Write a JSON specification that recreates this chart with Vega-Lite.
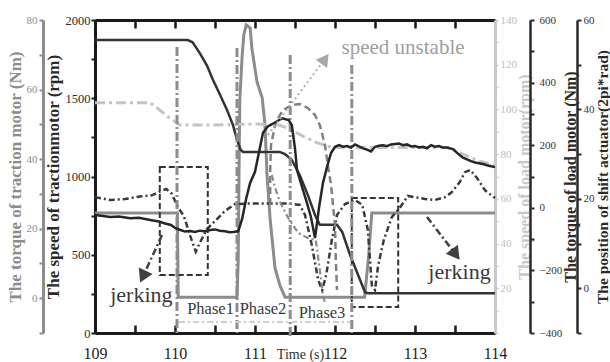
{
"$schema":"https://vega.github.io/schema/vega-lite/v6.json",
"width":400,"height":313,
"autosize":{"type":"none"},
"padding":{"left":95,"top":20,"right":115,"bottom":29},
"background":"white",
"config":{"view":{"stroke":null},"font":"Liberation Serif",
"axis":{"labelFont":"Liberation Serif","titleFont":"Liberation Serif","titleFontWeight":"bold","grid":false,"labelOverlap":false,"labelFlush":false,"format":"d"}},
"datasets":{
"tspeed":[{"t":109.00,"v":754},{"t":109.10,"v":748},{"t":109.19,"v":742},{"t":109.30,"v":744},{"t":109.44,"v":734},{"t":109.55,"v":736},{"t":109.69,"v":722},{"t":109.80,"v":712},{"t":109.875,"v":700},{"t":109.95,"v":690},{"t":110.00,"v":672},{"t":110.06,"v":660},{"t":110.125,"v":648},{"t":110.19,"v":652},{"t":110.25,"v":646},{"t":110.31,"v":654},{"t":110.375,"v":650},{"t":110.44,"v":658},{"t":110.50,"v":662},{"t":110.56,"v":654},{"t":110.625,"v":650},{"t":110.68,"v":644},{"t":110.73,"v":646},{"t":110.79,"v":650},{"t":110.84,"v":730},{"t":110.89,"v":860},{"t":110.94,"v":960},{"t":111.00,"v":1030},{"t":111.06,"v":1180},{"t":111.10,"v":1280},{"t":111.16,"v":1320},{"t":111.25,"v":1345},{"t":111.34,"v":1372},{"t":111.42,"v":1360},{"t":111.46,"v":1329},{"t":111.50,"v":1180},{"t":111.525,"v":1041},{"t":111.59,"v":930},{"t":111.65,"v":830},{"t":111.70,"v":740},{"t":111.75,"v":607},{"t":111.80,"v":800},{"t":111.85,"v":960},{"t":111.90,"v":1060},{"t":111.95,"v":1150},{"t":112.00,"v":1190},{"t":112.05,"v":1200},{"t":112.10,"v":1190},{"t":112.15,"v":1195},{"t":112.20,"v":1185},{"t":112.25,"v":1205},{"t":112.30,"v":1192},{"t":112.35,"v":1180},{"t":112.40,"v":1172},{"t":112.45,"v":1160},{"t":112.50,"v":1190},{"t":112.55,"v":1196},{"t":112.60,"v":1200},{"t":112.65,"v":1194},{"t":112.70,"v":1205},{"t":112.75,"v":1208},{"t":112.80,"v":1210},{"t":112.85,"v":1200},{"t":112.90,"v":1205},{"t":112.95,"v":1192},{"t":113.00,"v":1195},{"t":113.05,"v":1186},{"t":113.10,"v":1190},{"t":113.15,"v":1180},{"t":113.20,"v":1200},{"t":113.25,"v":1190},{"t":113.30,"v":1195},{"t":113.35,"v":1185},{"t":113.40,"v":1185},{"t":113.475,"v":1175},{"t":113.55,"v":1140},{"t":113.60,"v":1120},{"t":113.65,"v":1110},{"t":113.70,"v":1098},{"t":113.75,"v":1090},{"t":113.80,"v":1085},{"t":113.85,"v":1080},{"t":113.90,"v":1072},{"t":113.95,"v":1065},{"t":114.00,"v":1060}],
"arc":[{"t":111.19,"v":818},{"t":111.19,"v":1042},{"t":111.2,"v":1201},{"t":111.26,"v":1348},{"t":111.35,"v":1425},{"t":111.46,"v":1457},{"t":111.56,"v":1463},{"t":111.66,"v":1438},{"t":111.75,"v":1393},{"t":111.81,"v":1329},{"t":111.875,"v":1201},{"t":111.91,"v":1073},{"t":111.95,"v":946},{"t":111.975,"v":818},{"t":112.0,"v":690},{"t":112.01,"v":466},{"t":112.025,"v":275}],
"drop":[{"t":111.21,"v":1010},{"t":111.25,"v":930},{"t":111.31,"v":840},{"t":111.41,"v":740},{"t":111.54,"v":640},{"t":111.66,"v":607},{"t":111.76,"v":594},{"t":111.81,"v":403},{"t":111.85,"v":243},{"t":111.87,"v":200}],
"phases":[{"t":110.025,"v":1828,"v2":0},{"t":110.775,"v":1821,"v2":0},{"t":111.44,"v":1776,"v2":-35},{"t":112.21,"v":1712,"v2":0}],
"phasespan":[{"t":110.05,"t2":112.19,"v":70}],
"boxes":[{"t":109.81,"t2":110.41,"v":1061,"v2":371},{"t":112.21,"t2":112.79,"v":863,"v2":166}],
"jarrows":[{"t":109.8375,"v":626,"t2":109.599,"v2":360},{"t":113.15,"v":741,"t2":113.509,"v2":502}],
"uarrow":[{"t":111.1625,"v":1265,"t2":111.875,"v2":1751}],
"heads":[{"which":"left","t":109.599,"v":360},{"which":"right","t":113.509,"v":502},{"which":"up","t":111.875,"v":1751}],
"notes":[{"kind":"phase","t":110.444,"v":153,"label":"Phase1"},{"kind":"phase","t":111.1,"v":153,"label":"Phase2"},{"kind":"phase","t":111.8375,"v":128,"label":"Phase3"},{"kind":"jerk","t":109.58,"v":243,"label":"jerking"},{"kind":"jerk","t":113.556,"v":390,"label":"jerking"},{"kind":"unstable","t":112.85,"v":1821,"label":"speed unstable"}],
"ttorque":[{"t":109,"v":24.5},{"t":110.03,"v":24.5},{"t":110.04,"v":0.3},{"t":110.775,"v":0.3},{"t":110.79,"v":11},{"t":110.8,"v":35.4},{"t":110.81,"v":57},{"t":110.84,"v":70},{"t":110.86,"v":75.7},{"t":110.89,"v":78.6},{"t":110.94,"v":77.7},{"t":110.96,"v":72},{"t":111.025,"v":62.2},{"t":111.09,"v":57.6},{"t":111.125,"v":49.8},{"t":111.15,"v":35.4},{"t":111.19,"v":22.5},{"t":111.25,"v":8.7},{"t":111.31,"v":3.8},{"t":111.375,"v":0.3},{"t":112.37,"v":0.3},{"t":112.42,"v":12},{"t":112.46,"v":24.5},{"t":114,"v":24.5}],
"lspeed":[{"t":109,"v":103},{"t":109.69,"v":103},{"t":109.8,"v":100},{"t":109.9,"v":97},{"t":110.06,"v":93},{"t":110.5,"v":93},{"t":111.0,"v":93.5},{"t":111.3,"v":93},{"t":111.45,"v":91},{"t":111.6,"v":88},{"t":111.75,"v":85.5},{"t":111.9,"v":83.5},{"t":112.0,"v":83},{"t":113.4,"v":83},{"t":113.6,"v":80},{"t":113.8,"v":77},{"t":114,"v":75}],
"ltorque":[{"t":109.0,"v":34},{"t":109.19,"v":25},{"t":109.375,"v":28},{"t":109.56,"v":36},{"t":109.71,"v":40},{"t":109.81,"v":52},{"t":109.89,"v":60},{"t":109.96,"v":45},{"t":110.04,"v":0},{"t":110.11,"v":-26},{"t":110.19,"v":-90},{"t":110.26,"v":-140},{"t":110.31,"v":-112},{"t":110.4,"v":-68},{"t":110.5,"v":-42},{"t":110.625,"v":-10},{"t":110.75,"v":12},{"t":110.94,"v":14},{"t":111.19,"v":14},{"t":111.44,"v":14},{"t":111.56,"v":9},{"t":111.625,"v":-23},{"t":111.71,"v":-119},{"t":111.79,"v":-231},{"t":111.84,"v":-263},{"t":111.89,"v":-215},{"t":111.96,"v":-103},{"t":112.025,"v":-23},{"t":112.125,"v":12},{"t":112.25,"v":25},{"t":112.34,"v":10},{"t":112.41,"v":-70},{"t":112.46,"v":-247},{"t":112.5,"v":-263},{"t":112.54,"v":-183},{"t":112.61,"v":-103},{"t":112.71,"v":-30},{"t":112.81,"v":0},{"t":112.91,"v":38},{"t":113.0,"v":34},{"t":113.125,"v":28},{"t":113.25,"v":25},{"t":113.375,"v":34},{"t":113.46,"v":50},{"t":113.56,"v":82},{"t":113.625,"v":114},{"t":113.69,"v":121},{"t":113.775,"v":95},{"t":113.875,"v":56},{"t":114.0,"v":31}],
"shift":[{"t":109,"v":55.5},{"t":110.16,"v":55.5},{"t":110.22,"v":55},{"t":110.31,"v":52.6},{"t":110.4,"v":49.8},{"t":110.475,"v":46.6},{"t":110.56,"v":43.4},{"t":110.65,"v":39.9},{"t":110.725,"v":36.5},{"t":110.775,"v":33.2},{"t":110.82,"v":31},{"t":110.85,"v":30.5},{"t":111.31,"v":30.5},{"t":111.375,"v":30},{"t":111.46,"v":28.7},{"t":111.56,"v":25.3},{"t":111.66,"v":20.9},{"t":111.75,"v":16.4},{"t":111.81,"v":14.2},{"t":112.025,"v":14.2},{"t":112.09,"v":12.6},{"t":112.19,"v":7.4},{"t":112.29,"v":2.9},{"t":112.375,"v":-0.9},{"t":112.41,"v":-1.1},{"t":114,"v":-1.1}]
},
"resolve":{"scale":{"y":"independent"},"axis":{"x":"independent"}},
"layer":[
{"data":{"name":"ttorque"},"mark":{"type":"line","color":"#8c8c8c","strokeWidth":3},
 "encoding":{"x":{"field":"t","type":"quantitative","scale":{"domain":[109,114],"nice":false},"axis":null},
 "y":{"field":"v","type":"quantitative","scale":{"domain":[-10,80],"nice":false,"zero":false},
 "axis":{"orient":"left","offset":52,"values":[-10,0,10,20,30,40,50,60,70,80],"labelExpr":"datum.value % 20 == 0 ? datum.label : ''","tickSize":4,"labelPadding":2,"domainColor":"#8c8c8c","domainWidth":3,"tickColor":"#8c8c8c","tickWidth":2,"labelColor":"#8c8c8c","labelFontSize":11,"title":"The torque of traction motor (Nm)","titleColor":"#8c8c8c","titleFontSize":17,"titlePadding":2}}}},
{"data":{"name":"lspeed"},"mark":{"type":"line","color":"#c4c4c4","strokeWidth":3,"strokeDash":[10,4,3,4]},
 "encoding":{"x":{"field":"t","type":"quantitative","scale":{"domain":[109,114],"nice":false},
 "axis":{"orient":"top","values":[109,109.5,110,110.5,111,111.5,112,112.5,113,113.5,114],"labels":false,"tickSize":-8,"domainColor":"#1a1a1a","domainWidth":3,"tickColor":"#1a1a1a","tickWidth":2.5,"title":null}},
 "y":{"field":"v","type":"quantitative","scale":{"domain":[0,140],"nice":false,"zero":false},
 "axis":{"orient":"right","values":[0,10,20,30,40,50,60,70,80,90,100,110,120,130,140],"labelExpr":"datum.value % 20 == 0 && datum.value > 0 ? datum.label : ''","tickSize":3,"labelPadding":2,"domainColor":"#c8c8c8","domainWidth":3,"tickColor":"#c8c8c8","tickWidth":1.5,"labelColor":"#bdbdbd","labelFontSize":11,"title":"The speed of load motor(rpm)","titleColor":"#c8c8c8","titleFontSize":16,"titleAngle":270,"titleBaseline":"top","titlePadding":0}}}},
{"data":{"name":"ltorque"},"mark":{"type":"line","color":"#3a3a3a","strokeWidth":2.5,"strokeDash":[6,3,2,3]},
 "encoding":{"x":{"field":"t","type":"quantitative","scale":{"domain":[109,114],"nice":false},"axis":null},
 "y":{"field":"v","type":"quantitative","scale":{"domain":[-400,600],"nice":false,"zero":false},
 "axis":{"orient":"right","offset":35,"values":[-400,-300,-200,-100,0,100,200,300,400,500,600],"labelExpr":"datum.value % 200 == 0 ? datum.label : ''","tickSize":4,"labelPadding":5,"domainColor":"#2a2a2a","domainWidth":2.5,"tickColor":"#2a2a2a","tickWidth":2,"labelColor":"#333333","labelFontSize":11,"title":"The torque of load motor (Nm)","titleColor":"#2a2a2a","titleFontSize":16,"titleAngle":270,"titleBaseline":"top","titlePadding":1}}}},
{"data":{"name":"shift"},"mark":{"type":"line","color":"#333333","strokeWidth":2.5},
 "encoding":{"x":{"field":"t","type":"quantitative","scale":{"domain":[109,114],"nice":false},"axis":null},
 "y":{"field":"v","type":"quantitative","scale":{"domain":[-10,60],"nice":false,"zero":false},
 "axis":{"orient":"right","offset":82,"values":[-10,0,10,20,30,40,50,60],"labelExpr":"datum.value % 20 == 0 ? datum.label : ''","tickSize":4,"labelPadding":2,"domainColor":"#2a2a2a","domainWidth":2.5,"tickColor":"#2a2a2a","tickWidth":2,"labelColor":"#333333","labelFontSize":11,"title":"The position of shift actuator(2pi*rad)","titleColor":"#2a2a2a","titleFontSize":15.5,"titleAngle":270,"titleBaseline":"top","titlePadding":1}}}},
{"encoding":{"x":{"field":"t","type":"quantitative","scale":{"domain":[109,114],"nice":false},
 "axis":{"orient":"bottom","values":[109,109.5,110,110.5,111,111.5,112,112.5,113,113.5,114],"labelExpr":"datum.value % 1 == 0 ? datum.label : ''","tickSize":-8,"labelPadding":20,"domainColor":"#1a1a1a","domainWidth":3,"tickColor":"#1a1a1a","tickWidth":2.5,"labelFontSize":16,"labelColor":"#222222","title":"Time (s)","titleFontSize":14,"titleFontWeight":"normal","titleColor":"#333333","titleX":205,"titleY":14,"titleBaseline":"top"}},
 "y":{"field":"v","type":"quantitative","scale":{"domain":[0,2000],"nice":false,"zero":false},
 "axis":{"orient":"left","values":[0,250,500,750,1000,1250,1500,1750,2000],"labelExpr":"datum.value % 500 == 0 ? datum.label : ''","tickSize":4,"labelPadding":1,"domainColor":"#1a1a1a","domainWidth":3,"tickColor":"#1a1a1a","tickWidth":2,"labelFontSize":12.5,"labelColor":"#2a2a2a","title":"The speed of tractionmotor (rpm)","titleColor":"#2a2a2a","titleFontSize":17,"titlePadding":3}}},
 "layer":[
 {"data":{"name":"boxes"},"mark":{"type":"rect","fill":null,"stroke":"#333333","strokeWidth":2,"strokeDash":[6,3]},"encoding":{"x2":{"field":"t2"},"y2":{"field":"v2"}}},
 {"data":{"name":"phases"},"mark":{"type":"rule","color":"#8c8c8c","strokeWidth":3,"strokeDash":[9,3,2,3]},"encoding":{"y2":{"field":"v2"}}},
 {"data":{"name":"phasespan"},"mark":{"type":"rule","color":"#cfcfcf","strokeWidth":2,"strokeDash":[6,3,2,3]},"encoding":{"x2":{"field":"t2"}}},
 {"data":{"name":"arc"},"mark":{"type":"line","color":"#808080","strokeWidth":2.5,"strokeDash":[7,4]}},
 {"data":{"name":"drop"},"mark":{"type":"line","color":"#8a8a8a","strokeWidth":2.2,"strokeDash":[6,3,2,3]}},
 {"data":{"name":"tspeed"},"mark":{"type":"line","color":"#262626","strokeWidth":2.5}},
 {"data":{"name":"jarrows"},"mark":{"type":"rule","color":"#404040","strokeWidth":2.5,"strokeDash":[7,3,2,3]},"encoding":{"x2":{"field":"t2"},"y2":{"field":"v2"}}},
 {"data":{"name":"uarrow"},"mark":{"type":"rule","color":"#b0b0b0","strokeWidth":2,"strokeDash":[2,3]},"encoding":{"x2":{"field":"t2"},"y2":{"field":"v2"}}},
 {"data":{"name":"heads"},"transform":[{"filter":"datum.which == 'left'"}],"mark":{"type":"point","shape":"triangle-up","filled":true,"color":"#404040","opacity":1,"size":230,"angle":205}},
 {"data":{"name":"heads"},"transform":[{"filter":"datum.which == 'right'"}],"mark":{"type":"point","shape":"triangle-up","filled":true,"color":"#404040","opacity":1,"size":230,"angle":143}},
 {"data":{"name":"heads"},"transform":[{"filter":"datum.which == 'up'"}],"mark":{"type":"point","shape":"triangle-up","filled":true,"color":"#a8a8a8","opacity":1,"size":200,"angle":36}},
 {"data":{"name":"notes"},"transform":[{"filter":"datum.kind == 'phase'"}],"mark":{"type":"text","font":"Liberation Serif","fontSize":16.5,"color":"#3a3a3a","baseline":"middle"},"encoding":{"text":{"field":"label"}}},
 {"data":{"name":"notes"},"transform":[{"filter":"datum.kind == 'jerk'"}],"mark":{"type":"text","font":"Liberation Serif","fontSize":22,"color":"#3a3a3a","baseline":"middle"},"encoding":{"text":{"field":"label"}}},
 {"data":{"name":"notes"},"transform":[{"filter":"datum.kind == 'unstable'"}],"mark":{"type":"text","font":"Liberation Serif","fontSize":21,"color":"#a0a0a0","baseline":"middle"},"encoding":{"text":{"field":"label"}}}
 ]}
]
}
